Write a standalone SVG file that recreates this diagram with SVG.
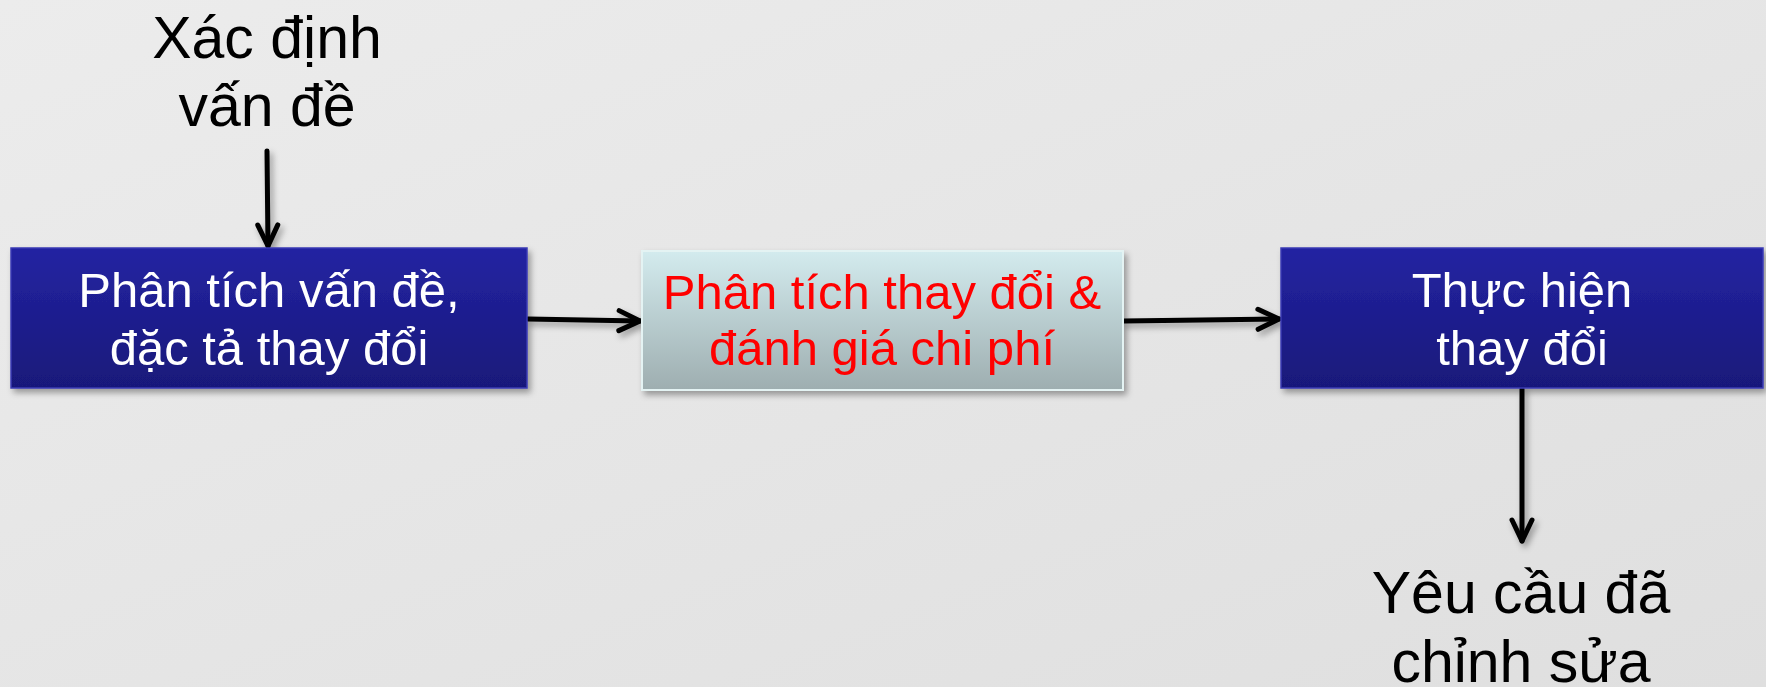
<svg xmlns="http://www.w3.org/2000/svg" width="1766" height="687" viewBox="0 0 1766 687">
  <style>
    .lbl { font-family: "Liberation Sans", Arial, sans-serif; text-anchor: middle; }
    .big { font-size: 59px; fill: #000000; }
    .box { font-size: 49px; }
    .white { fill: #ffffff; }
    .red { fill: #ff0000; }
    .conn { fill: none; stroke: #000000; stroke-width: 5; stroke-linecap: round; }
  </style>
  <defs>
    <linearGradient id="bg" x1="0" y1="0" x2="1" y2="1">
      <stop offset="0" stop-color="#ececec"/>
      <stop offset="1" stop-color="#dfdfdf"/>
    </linearGradient>
    <linearGradient id="blue" x1="0" y1="0" x2="0" y2="1">
      <stop offset="0" stop-color="#2323a2"/>
      <stop offset="1" stop-color="#19197a"/>
    </linearGradient>
    <linearGradient id="teal" x1="0" y1="0" x2="0" y2="1">
      <stop offset="0" stop-color="#d3ebee"/>
      <stop offset="1" stop-color="#9eaeb0"/>
    </linearGradient>
    <filter id="shadow" x="-10%" y="-10%" width="120%" height="130%">
      <feDropShadow dx="3" dy="4" stdDeviation="3" flood-color="#000000" flood-opacity="0.35"/>
    </filter>
    <marker id="arrow" markerUnits="userSpaceOnUse" markerWidth="40" markerHeight="40" refX="0" refY="0" viewBox="-30 -20 40 40" orient="auto" overflow="visible">
      <path d="M-21,-10 L0,0 L-21,10" fill="none" stroke="#000000" stroke-width="5" stroke-linecap="round" stroke-linejoin="round"/>
    </marker>
  </defs>

  <rect x="0" y="0" width="1766" height="687" fill="url(#bg)"/>

  <g id="connectors" filter="url(#shadow)">
    <path class="conn" d="M267,151 L268,246" marker-end="url(#arrow)"/>
    <path class="conn" d="M528,319 L640,321" marker-end="url(#arrow)"/>
    <path class="conn" d="M1124,321 L1279,319" marker-end="url(#arrow)"/>
    <path class="conn" d="M1522,389 L1522,541" marker-end="url(#arrow)"/>
  </g>

  <g id="label-start">
    <text class="lbl big" x="267" y="58">Xác định</text>
    <text class="lbl big" x="267" y="126">vấn đề</text>
  </g>

  <g id="node-analyze-problem">
    <rect x="11" y="248" width="516" height="140" fill="url(#blue)" stroke="#3a3ab4" stroke-width="1.5" filter="url(#shadow)"/>
    <text class="lbl box white" x="269" y="307">Phân tích vấn đề,</text>
    <text class="lbl box white" x="269" y="365">đặc tả thay đổi</text>
  </g>

  <g id="node-analyze-change">
    <rect x="642" y="251" width="481" height="139" fill="url(#teal)" stroke="#e4f3f3" stroke-width="2" filter="url(#shadow)"/>
    <text class="lbl box red" x="882" y="309">Phân tích thay đổi &amp;</text>
    <text class="lbl box red" x="882" y="365">đánh giá chi phí</text>
  </g>

  <g id="node-implement">
    <rect x="1281" y="248" width="482" height="140" fill="url(#blue)" stroke="#3a3ab4" stroke-width="1.5" filter="url(#shadow)"/>
    <text class="lbl box white" x="1522" y="307">Thực hiện</text>
    <text class="lbl box white" x="1522" y="365">thay đổi</text>
  </g>

  <g id="label-end">
    <text class="lbl big" x="1521" y="613">Yêu cầu đã</text>
    <text class="lbl big" x="1521" y="682">chỉnh sửa</text>
  </g>
</svg>
